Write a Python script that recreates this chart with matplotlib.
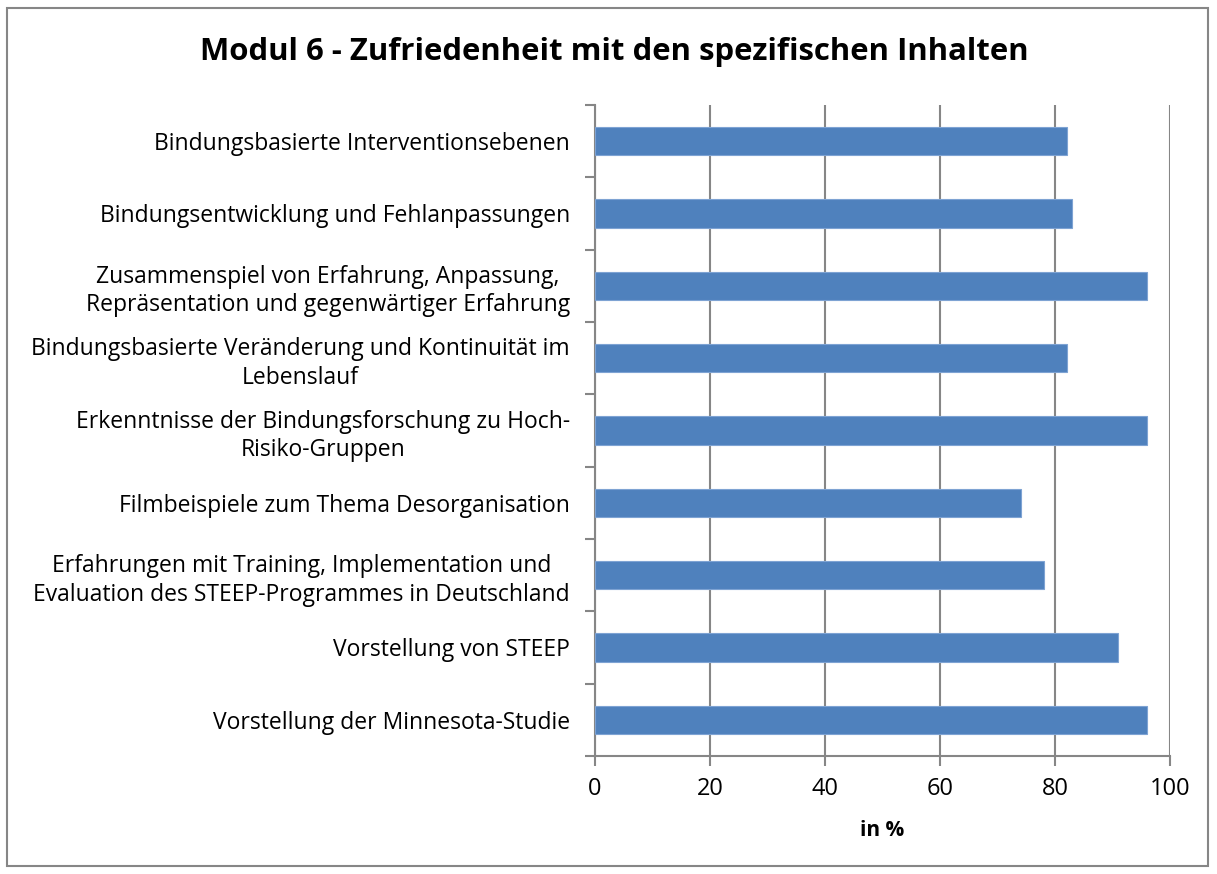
import matplotlib
matplotlib.use("Agg")
import matplotlib.pyplot as plt
from matplotlib.patches import Rectangle

categories = [
    "Bindungsbasierte Interventionsebenen",
    "Bindungsentwicklung und Fehlanpassungen",
    "Zusammenspiel von Erfahrung, Anpassung,\nRepräsentation und gegenwärtiger Erfahrung",
    "Bindungsbasierte Veränderung und Kontinuität im\nLebenslauf",
    "Erkenntnisse der Bindungsforschung zu Hoch-\nRisiko-Gruppen",
    "Filmbeispiele zum Thema Desorganisation",
    "Erfahrungen mit Training, Implementation und\nEvaluation des STEEP-Programmes in Deutschland",
    "Vorstellung von STEEP",
    "Vorstellung der Minnesota-Studie",
]
values = [82, 83, 96, 82, 96, 74, 78, 91, 96]
xticks = [0, 20, 40, 60, 80, 100]
title = "Modul 6 - Zufriedenheit mit den spezifischen Inhalten"
xlabel = "in %"

plt.rcParams['font.family'] = ['Open Sans', 'DejaVu Sans']

W, H = 1217, 874
fig = plt.figure(figsize=(W / 100, H / 100), dpi=100)
ax = fig.add_axes([595 / W, 1 - 756 / H, (1170 - 595) / W, (756 - 105) / H])

n = len(categories)
ypos = list(range(n))[::-1]
ax.barh(ypos, values, height=0.39, color="#4F81BD", edgecolor="#7EA3D3", linewidth=0.8, zorder=3)

ax.set_xlim(0, 100)
ax.set_ylim(-0.5, n - 0.5)
ax.set_xticks(xticks)
ax.set_xticklabels([str(t) for t in xticks], fontsize=17)
ax.set_yticks(ypos)
ax.set_yticklabels(categories, fontsize=16.5, multialignment="center", linespacing=1.25)
ax.set_yticks([i - 0.5 for i in range(n + 1)], minor=True)
ax.tick_params(axis="y", which="major", length=0, pad=18)
ax.tick_params(axis="y", which="minor", length=7, width=1.5, color="#868686", direction="out")
ax.tick_params(axis="x", length=7, width=1.5, color="#868686", direction="out", pad=8)

ax.grid(axis="x", color="#868686", linewidth=1.5, zorder=0)
for s in ["top", "right"]:
    ax.spines[s].set_visible(False)
for s in ["left", "bottom"]:
    ax.spines[s].set_color("#868686")
    ax.spines[s].set_linewidth(1.5)

ax.set_xlabel(xlabel, fontsize=15, fontweight="bold", labelpad=14)

fig.text(614 / W, 1 - 52 / H, title, fontsize=22.4, fontweight="bold", ha="center", va="center")

fig.patches.append(Rectangle((7 / W, 8 / H), (1208 - 7) / W, (866 - 8) / H,
                             transform=fig.transFigure, fill=False,
                             edgecolor="#868686", linewidth=1.5))

fig.savefig("out.png", dpi=100)
